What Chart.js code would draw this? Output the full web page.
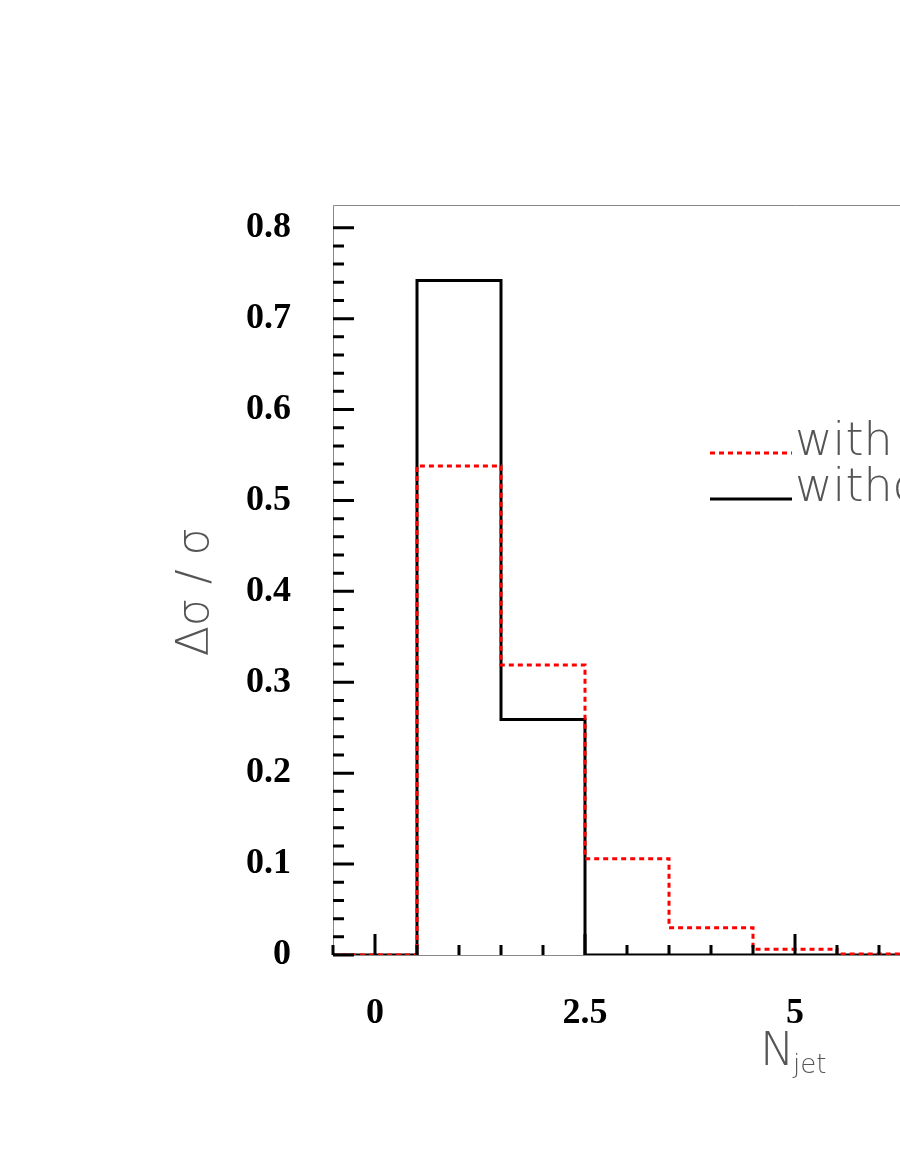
<!DOCTYPE html>
<html>
<head>
<meta charset="utf-8">
<script src="https://cdn.jsdelivr.net/npm/chart.js@4.4.0/dist/chart.umd.min.js"></script>
<style>
    body { margin: 0; overflow: hidden; background: #fff; }
</style>
</head>
<body>
<canvas id="grafico" width="1286" height="1164"></canvas>
<script>
// bin centres (N_jet) and the two histograms
var binCenters = [0, 1, 2, 3, 4, 5, 6, 7, 8, 9, 10];
var withVals = [0, 0.538, 0.319, 0.106, 0.030, 0.0063, 0.0010, 0.0002, 0, 0, 0];
var withoutVals = [0, 0.742, 0.259, 0, 0, 0, 0, 0, 0, 0, 0];
var xTickLabels = [0, 2.5, 5, 7.5, 10];
var legendLabels = ['with', 'without'];

// step outline: point at every left edge + one at the last right edge
function stepPoints(vals) {
    var pts = binCenters.map(function (c, i) { return { x: c - 0.5, y: vals[i] } })
    pts.push({ x: binCenters[binCenters.length - 1] + 0.5, y: vals[vals.length - 1] })
    return pts
}

var lightFont = '200 44px "DejaVu Sans", sans-serif'

var decorazioni = {
    id: 'decorazioni',
    afterDatasetsDraw(chart) {
        var ctx = chart.ctx
        var area = chart.chartArea
        var xs = chart.scales.x
        var ys = chart.scales.y
        ctx.save()

        // thin grey frame
        ctx.strokeStyle = '#888'
        ctx.lineWidth = 1
        ctx.beginPath()
        ctx.moveTo(area.left + 0.5, area.bottom)
        ctx.lineTo(area.left + 0.5, area.top + 0.5)
        ctx.lineTo(area.right, area.top + 0.5)
        ctx.moveTo(area.left, area.bottom + 0.5)
        ctx.lineTo(area.right, area.bottom + 0.5)
        ctx.stroke()

        // tick marks inside the frame
        ctx.strokeStyle = '#000'
        ctx.lineWidth = 3
        ctx.beginPath()
        ys.ticks.forEach(function (t) {
            var k = t.value / 0.02
            if (Math.abs(k - Math.round(k)) > 1e-6) return
            var py = ys.getPixelForValue(t.value)
            var m = t.value / 0.1
            var len = Math.abs(m - Math.round(m)) < 1e-6 ? 21 : 11
            ctx.moveTo(area.left, py)
            ctx.lineTo(area.left + len, py)
        })
        xs.ticks.forEach(function (t) {
            var px = xs.getPixelForValue(t.value)
            var m = t.value / 2.5
            var len = Math.abs(m - Math.round(m)) < 1e-6 ? 21 : 10
            ctx.moveTo(px, area.bottom)
            ctx.lineTo(px, area.bottom - len)
        })
        ctx.stroke()

        // axis titles
        ctx.fillStyle = '#555'
        ctx.font = lightFont
        ctx.textAlign = 'center'
        ctx.textBaseline = 'middle'
        ctx.save()
        ctx.translate(197, 592)
        ctx.rotate(-Math.PI / 2)
        ctx.fillText('\u0394\u03c3 / \u03c3', 0, 0)
        ctx.restore()

        ctx.textAlign = 'left'
        ctx.textBaseline = 'alphabetic'
        ctx.font = '200 46px "DejaVu Sans", sans-serif'
        ctx.fillText('N', 760, 1065)
        ctx.font = '200 26px "DejaVu Sans", sans-serif'
        ctx.fillText('jet', 793, 1073)

        // legend
        var colori = ['#ff0000', '#000000']
        var dash = [[5, 4], []]
        var righe = [453, 499]
        righe.forEach(function (yy, i) {
            ctx.strokeStyle = colori[i]
            ctx.lineWidth = 3
            ctx.setLineDash(dash[i])
            ctx.beginPath()
            ctx.moveTo(710, yy)
            ctx.lineTo(792, yy)
            ctx.stroke()
            ctx.setLineDash([])
            ctx.fillStyle = '#555'
            ctx.font = '200 46px "DejaVu Sans", sans-serif'
            ctx.fillText(legendLabels[i], 795, yy + 2)
        })

        ctx.restore()
    }
}

var myChart = new Chart(document.getElementById('grafico'), {
    type: 'line',
    data: {
        datasets: [{
            label: legendLabels[0],
            data: stepPoints(withVals),
            stepped: true,
            borderColor: '#ff0000',
            borderWidth: 3,
            borderDash: [5, 4],
            pointRadius: 0,
            fill: false,
            order: 0
        }, {
            label: legendLabels[1],
            data: stepPoints(withoutVals),
            stepped: true,
            borderColor: '#000000',
            borderWidth: 3,
            pointRadius: 0,
            fill: false,
            order: 1
        }]
    },
    options: {
        responsive: false,
        animation: false,
        layout: { padding: { top: 205, right: 10, left: 0, bottom: 0 } },
        scales: {
            x: {
                type: 'linear',
                min: -0.5,
                max: 10.5,
                grid: { display: false },
                border: { display: false },
                afterFit: function (s) { s.height = 209 },
                ticks: {
                    stepSize: 0.5,
                    autoSkip: false,
                    maxRotation: 0,
                    padding: 29,
                    color: '#000',
                    font: { family: '"Liberation Serif", serif', weight: 'bold', size: 36 },
                    callback: function (v) {
                        return xTickLabels.indexOf(v) >= 0 ? String(v) : ''
                    }
                }
            },
            y: {
                type: 'linear',
                min: 0,
                max: 0.825,
                grid: { display: false },
                border: { display: false },
                afterFit: function (s) { s.width = 333 },
                ticks: {
                    stepSize: 0.02,
                    autoSkip: false,
                    padding: 34,
                    color: '#000',
                    font: { family: '"Liberation Serif", serif', weight: 'bold', size: 36 },
                    callback: function (v) {
                        var m = v / 0.1
                        if (Math.abs(m - Math.round(m)) > 1e-6) return ''
                        return String(Math.round(m) / 10)
                    }
                }
            }
        },
        plugins: {
            legend: { display: false },
            tooltip: { enabled: false }
        }
    },
    plugins: [decorazioni]
});
</script>
</body>
</html>
